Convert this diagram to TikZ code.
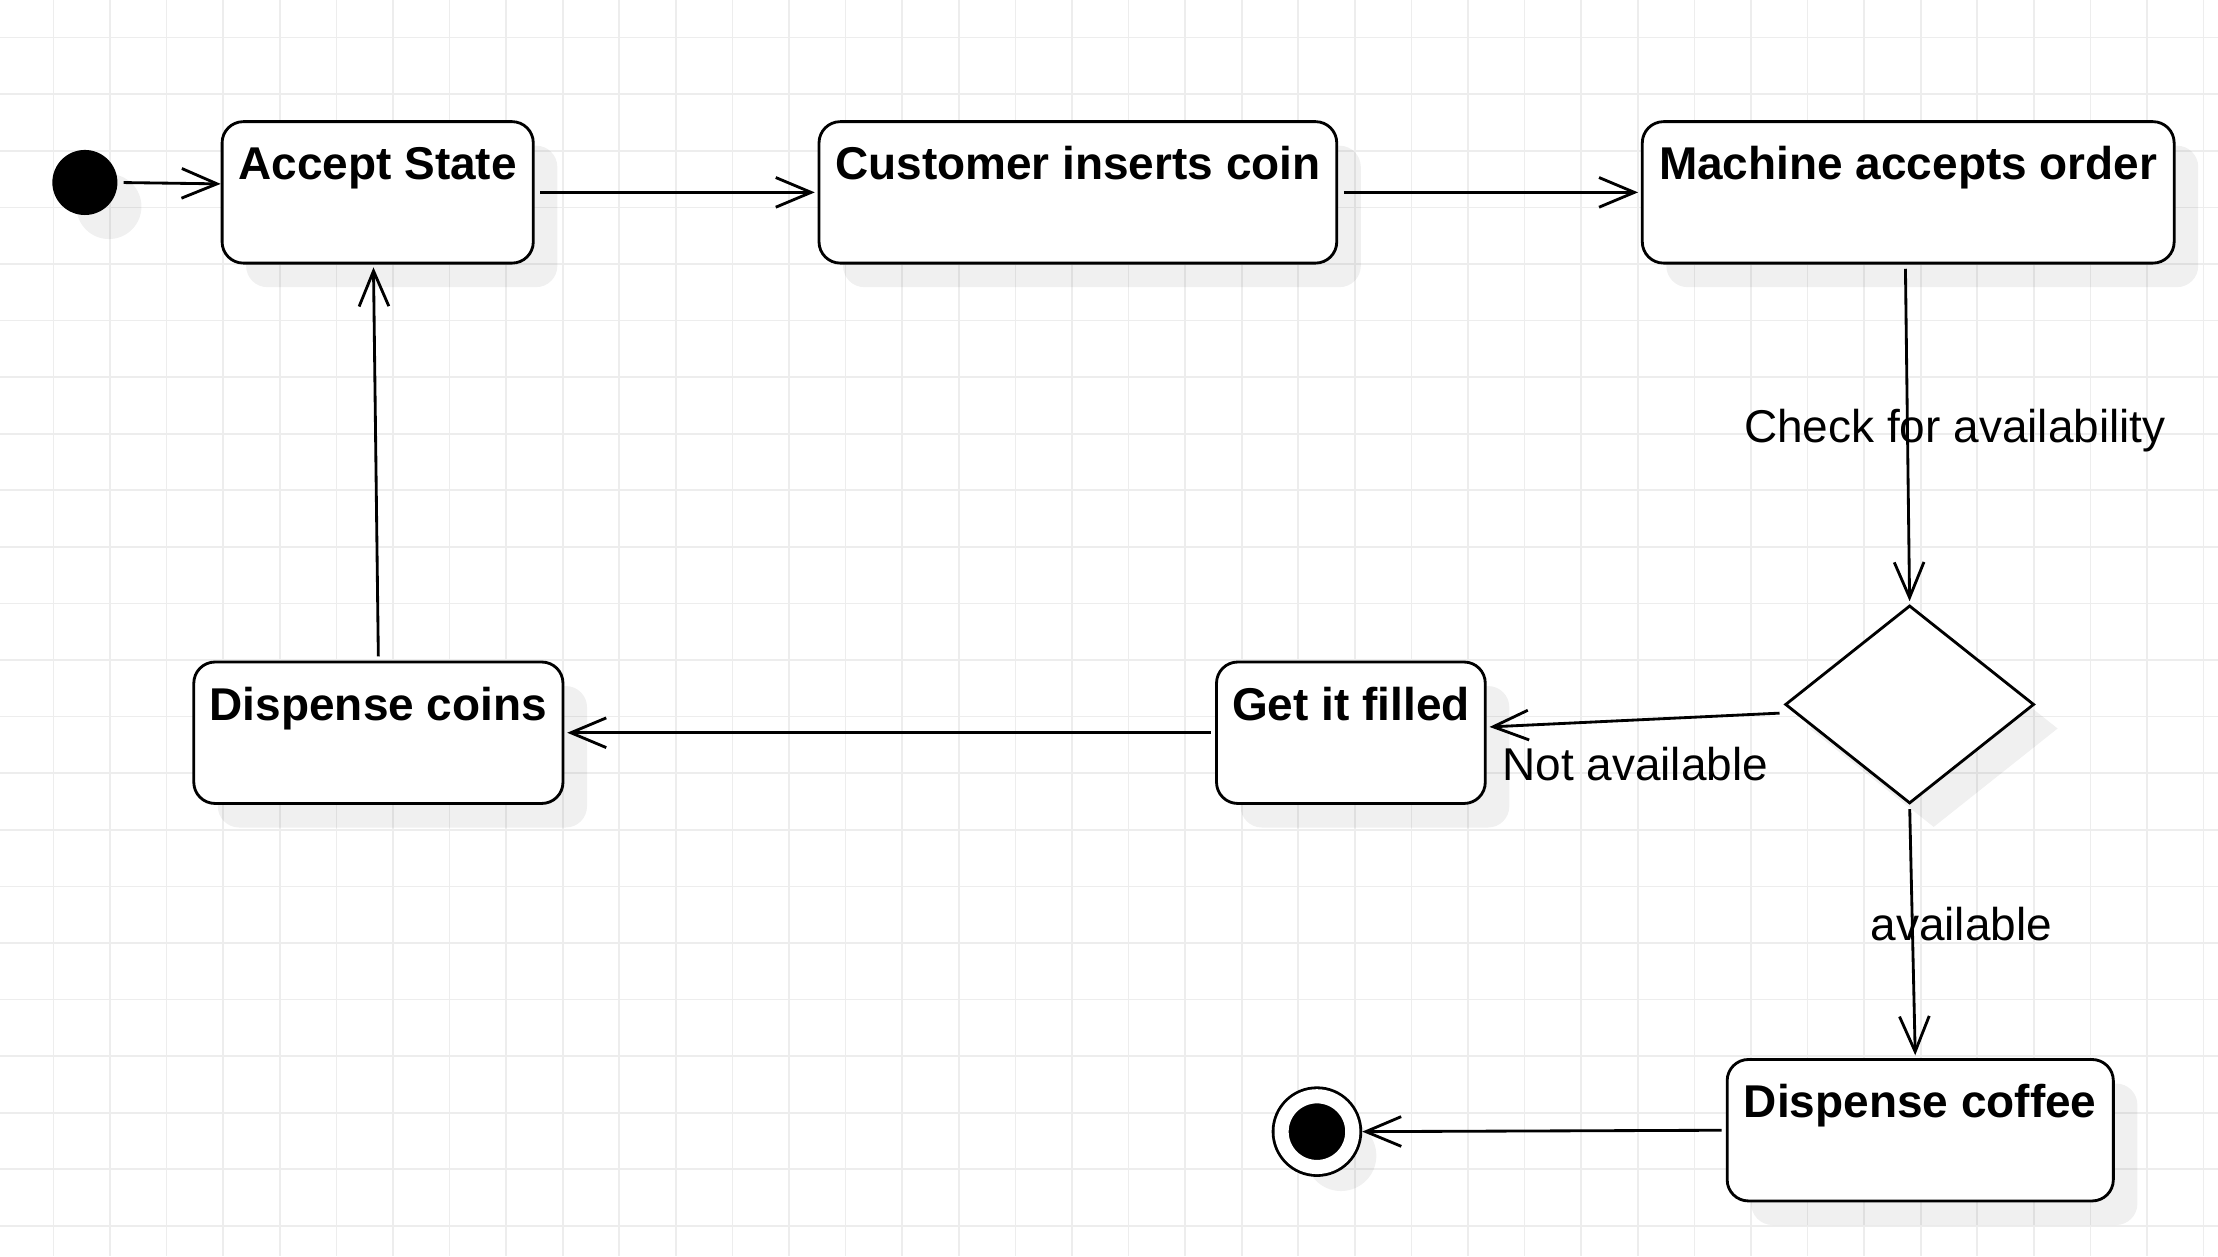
\documentclass[tikz,border=0pt]{standalone}
\usepackage{fontspec}
\setmainfont{Liberation Sans}
\usetikzlibrary{arrows.meta,shapes.geometric,shadows}
\definecolor{gridc}{RGB}{237,237,237}
\begin{document}
\begin{tikzpicture}[x=0.5pt,y=-0.5pt,
  font=\fontsize{16.25pt}{19.5pt}\selectfont,
  shad/.style={drop shadow={shadow xshift=8.5pt,shadow yshift=-8.5pt,opacity=0.06,fill=black}},
  state/.style={draw,line width=1pt,rounded corners=7.5pt,fill=white,shad,minimum height=50pt,inner sep=2pt,text height=12pt,text depth=21pt,font=\fontsize{16.25pt}{19.5pt}\selectfont\bfseries},
  conn/.style={line width=1pt,-{Straight Barb[length=12.5pt,width=10.5pt]}},
  elabel/.style={inner sep=0pt}
]
\useasboundingbox (0,0) rectangle (1568,888);
\fill[white] (0,0) rectangle (1568,888);
\foreach \i in {0,...,38} \draw[gridc,line width=0.6pt] ({37.8+40*\i},0) -- ({37.8+40*\i},888);
\foreach \j in {0,...,21} \draw[gridc,line width=0.6pt] (0,{26.6+40*\j}) -- (1568,{26.6+40*\j});

\node[circle,fill=black,shad,minimum size=23pt,inner sep=0pt] (init) at (60,129) {};
\node[state,minimum width=110pt] (accept) at (267,136) {Accept State};
\node[state,minimum width=183pt] (customer) at (762,136) {Customer inserts coin};
\node[state,minimum width=188pt] (machine) at (1349,136) {Machine accepts order};
\node[diamond,draw,line width=1pt,fill=white,shad,minimum width=88pt,minimum height=70pt,inner sep=0pt] (dia) at (1350,498) {};
\node[state,minimum width=95pt] (filled) at (955,518) {Get it filled};
\node[state,minimum width=130.5pt] (coins) at (267.5,518) {Dispense coins};
\node[state,minimum width=136.5pt] (coffee) at (1357.5,799) {Dispense coffee};
\node[circle,draw=black,fill=black,line width=1pt,double=white,double distance=5pt,shad,
  minimum size=25pt,inner sep=0pt,outer sep=3.5pt] (final) at (931,800) {};

\draw[conn,shorten <=2pt] (init.east) -- ([yshift=3pt]accept.west);
\draw[conn,shorten <=2pt,shorten >=1pt] (accept.east) -- (customer.west);
\draw[conn,shorten <=2pt,shorten >=1pt] (customer.east) -- (machine.west);
\draw[conn,shorten <=1.5pt,shorten >=1pt] ([xshift=-1pt]machine.south) -- (dia.north)
  node[elabel,pos=0.477,xshift=16.75pt,yshift=-1.5pt] {Check for availability};
\draw[conn,shorten <=1.5pt,shorten >=1pt] ([yshift=-3pt]dia.west) -- ([yshift=2pt]filled.east)
  node[elabel,pos=0.5,yshift=-15.5pt] {Not available};
\draw[conn,shorten <=1.5pt,shorten >=1pt] (dia.south) -- ([xshift=-1.75pt]coffee.north)
  node[elabel,pos=0.47,xshift=17.3pt] {available};
\draw[conn,shorten <=1.5pt,shorten >=1pt] (filled.west) -- (coins.east);
\draw[conn,shorten <=1.5pt,shorten >=1pt] (coins.north) -- ([xshift=-1.5pt]accept.south);
\draw[conn,shorten <=1.5pt,shorten >=0pt] (coffee.west) -- (final.east);
\end{tikzpicture}
\end{document}
